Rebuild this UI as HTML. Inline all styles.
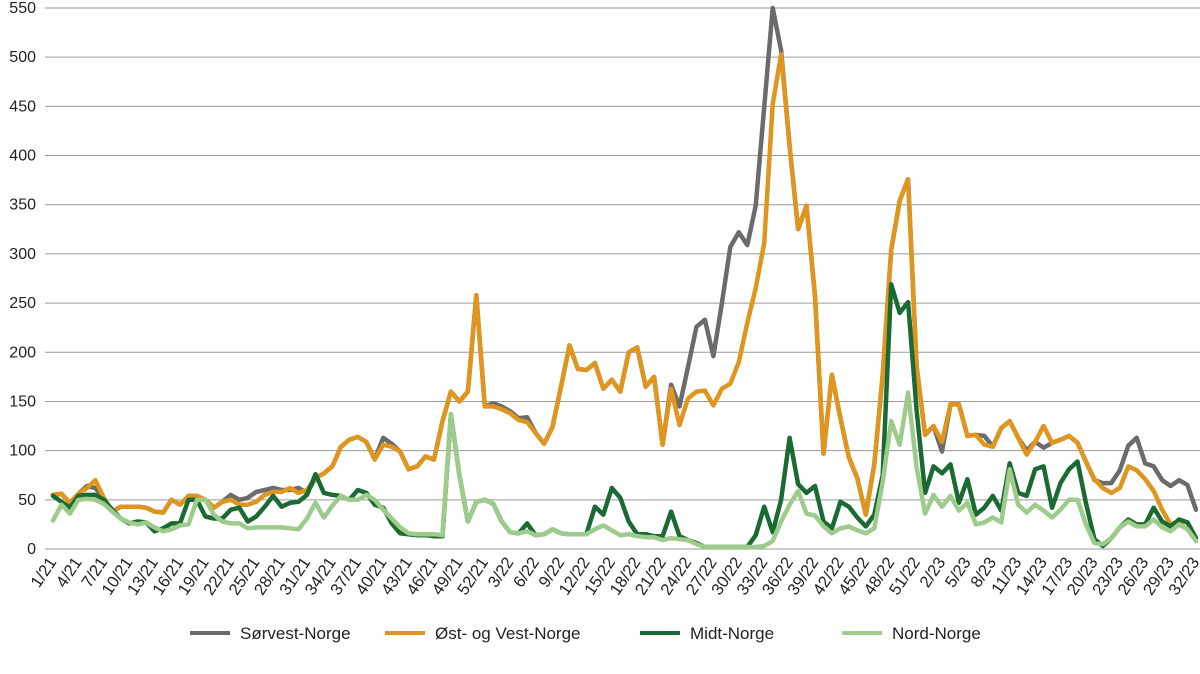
<!DOCTYPE html>
<html><head><meta charset="utf-8">
<style>
html,body{margin:0;padding:0;background:#fff;}
svg{display:block;font-family:"Liberation Sans",sans-serif;}
</style></head>
<body>
<svg id="chart" width="1200" height="674" viewBox="0 0 1200 674" xmlns="http://www.w3.org/2000/svg">
<g id="grid"></g>
<g id="ylab"></g>
<g id="xlab"></g>
<g id="series"></g>
<g id="legend"></g>
</svg>
<script>
const yTicks = [0,50,100,150,200,250,300,350,400,450,500,550];
const weeks = [];
for (let w=1; w<=52; w++) weeks.push(w+'/21');
for (let w=1; w<=52; w++) weeks.push(w+'/22');
for (let w=1; w<=32; w++) weeks.push(w+'/23');

const sorvest = [55,56,47,56,64,62,52,38,43,43, 43,42,38,37,50,45,54,54,50,42, 48,55,50,52,58,60,62,60,60,62,
 57,72,77,84,104,111,114,109,91,113, 107,99,81,84,94,91,130,160,150,160, 258,145,148,145,140,133,134,118,107,124,
 165,207,183,182,189,163,172,160,200,205, 165,175,106,167,145,185,226,233,196,250, 307,322,309,349,449,550,507,410,325,349,
 257,97,177,133,93,72,35,86,177,304, 354,376,186,116,125,99,147,147,115,116, 115,104,123,130,113,100,109,103,108,111,
 115,108,89,70,67,67,80,105,113,87, 84,70,64,70,65,40];
const ostvest = [55,56,47,56,62,70,52,38,43,43, 43,42,38,37,50,45,54,54,50,42, 48,50,45,45,48,55,58,58,62,57,
 60,72,77,84,104,111,114,109,91,106, 104,99,81,84,94,91,130,160,150,160, 258,145,145,142,138,131,129,118,107,124,
 165,207,183,182,189,163,172,160,200,205, 165,175,106,163,126,153,160,161,146,163, 168,190,230,265,311,452,503,410,325,349,
 257,97,177,133,93,72,35,86,177,304, 354,376,186,116,125,109,147,147,115,116, 106,104,123,130,113,96,109,125,108,111,
 115,108,89,71,62,57,62,84,80,71, 59,40,25,28,27,11];
const midt = [54,48,42,54,55,55,50,40,31,26, 28,27,18,21,26,26,50,50,33,31, 31,40,42,28,33,43,54,43,47,48,
 55,76,57,55,54,50,60,57,45,42, 26,16,15,14,14,13,13,137,75,28, 48,50,46,28,17,16,26,14,15,20,
 16,15,15,15,43,35,62,52,28,15, 15,13,13,38,13,9,6,2,2,2, 2,2,2,14,43,17,50,113,66,57,
 64,28,21,48,43,32,23,35,75,269, 240,251,141,57,84,77,86,47,71,35, 42,54,39,87,57,54,81,84,42,67,
 81,89,47,10,3,11,22,30,25,25, 42,28,23,30,27,11];
const nord = [29,45,36,50,51,50,46,38,31,27, 25,27,22,18,20,24,25,50,50,35, 28,26,26,21,22,22,22,22,21,20,
 31,47,32,44,54,50,50,55,50,40, 31,22,16,15,15,15,14,137,75,28, 48,50,46,28,17,16,18,14,15,20,
 16,15,15,15,20,24,19,14,15,13, 12,12,9,11,10,9,5,2,2,2, 2,2,2,2,3,8,28,45,59,36,
 34,23,16,21,23,19,16,21,68,130, 106,159,83,36,55,43,54,39,47,25, 27,32,27,81,45,37,45,39,32,40,
 50,50,25,6,5,11,22,28,23,23, 30,22,18,25,20,8];

const seriesNames = ['Sørvest-Norge','Øst- og Vest-Norge','Midt-Norge','Nord-Norge'];
const seriesData = [sorvest, ostvest, midt, nord];
const colors = ['#6b6b6b','#e0951e','#1b6a34','#9dcb8b'];

const NS='http://www.w3.org/2000/svg';
const X0=53, X1=1196, Y0=549, Y1=8, VMAX=550;
function xS(i){ return X0 + i*(X1-X0)/(weeks.length-1); }
function yS(v){ return Y0 - v*(Y0-Y1)/VMAX; }
function mk(tag, attrs, parent){ const e=document.createElementNS(NS,tag); for(const k in attrs) e.setAttribute(k,attrs[k]); parent.appendChild(e); return e; }

const grid=document.getElementById('grid'), ylab=document.getElementById('ylab'), xlab=document.getElementById('xlab');
yTicks.forEach(t=>{
  const l=mk('line',{x1:45,x2:1200,y1:yS(t),y2:yS(t),stroke:'#9a9a9a','stroke-width':1},grid);
  
  
  const tx=mk('text',{x:36,y:yS(t)+5,'text-anchor':'end','font-size':16,fill:'#222'},ylab);
  tx.textContent=t;
  
  
});
weeks.forEach((w,i)=>{
  if(i%3!==0) return;
  const x=xS(i)+4, y=562;
  const tx=mk('text',{x:x,y:y,'text-anchor':'end','font-size':16.5,fill:'#222',transform:`rotate(-56 ${x} ${y})`},xlab);
  tx.textContent=w;
  
  
});
const sg=document.getElementById('series');
seriesData.forEach((d,s)=>{
  const pts=d.map((v,i)=>xS(i).toFixed(1)+','+yS(v).toFixed(1)).join(' ');
  const p=mk('polyline',{points:pts,fill:'none',stroke:colors[s],'stroke-width':4.5,'stroke-linejoin':'round','stroke-linecap':'round'},sg);
  
  
});
const lg=document.getElementById('legend');
const lx=[190,385,640,842];
seriesNames.forEach((n,s)=>{
  const l=mk('line',{x1:lx[s],x2:lx[s]+40,y1:633,y2:633,stroke:colors[s],'stroke-width':4},lg);
  
  
  const t=mk('text',{x:lx[s]+50,y:639,'font-size':17,fill:'#222'},lg);
  t.textContent=n;
  
  
});
</script>
</body></html>
